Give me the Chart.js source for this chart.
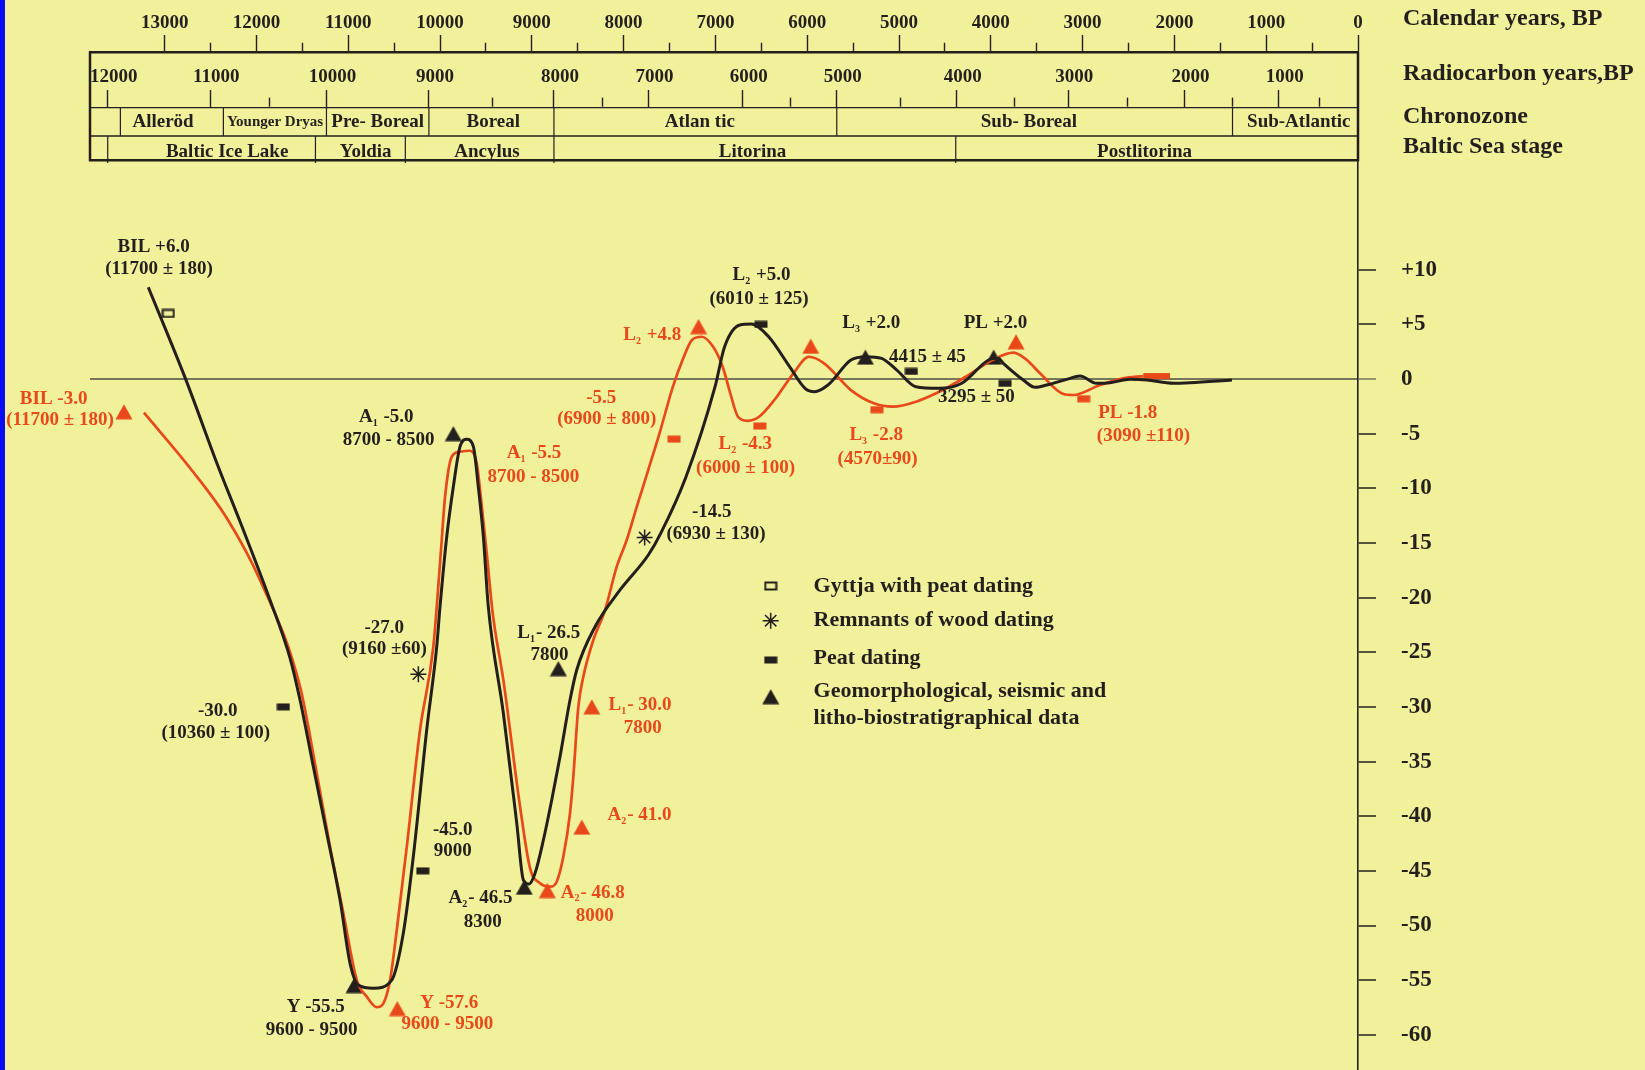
<!DOCTYPE html>
<html>
<head>
<meta charset="utf-8">
<script src="https://cdn.jsdelivr.net/npm/chart.js@4.4.1/dist/chart.umd.min.js"></script>
<style>
  html, body { margin: 0; padding: 0; background: #f2f19b; overflow: hidden; }
  canvas { display: block; }
</style>
</head>
<body>
<canvas id="curve" width="1645" height="1070" style="width:1645px;height:1070px"></canvas>
<script>
// ---- Sea-level curves: calendar age (years BP) and relative level (m) ----
const blackYears = [13178, 12770, 12419, 12168, 11852, 11634, 11525, 11380, 11234, 11089, 10980, 10890,
  10726, 10526, 10400, 10291, 10145, 10036, 10000, 9927, 9855, 9782, 9709, 9637, 9583, 9528, 9474,
  9310, 9164, 9092, 9030, 8965, 8874, 8783, 8693, 8584, 8511, 8311, 8039, 7731, 7596, 7320, 7004,
  6900, 6733, 6608, 6420, 6192, 6024, 5920, 5774, 5524, 5357, 5191, 5024, 4816, 4565, 4316, 4024,
  3919, 3864, 3646, 3518, 3391, 3173, 3028, 2846, 2701, 2484, 2302, 2012, 1830, 1373];
const blackLevels = [8.4, -0.03, -7.96, -13.27, -20.22, -25.53, -29.37, -35.47, -41.56, -47.67, -53.46, -55.44,
  -55.74, -54.99, -50.71, -43.7, -32.11, -24.49, -20.83, -14.43, -9.85, -6.19, -5.52, -6.19, -9.85, -14.43, -20.83,
  -30.58, -40.65, -45.84, -46.2, -45.22, -42.18, -38.52, -34.56, -29.37, -26.62, -22.66, -19.3, -16.1, -14.12, -8.94, -0.7,
  2.96, 4.94, 5.03, 3.87, 1.13, -0.85, -1.16, -0.55, 1.74, 2.04, 1.89, 0.82, -0.7, -0.85, -0.39, 1.74,
  1.89, 1.44, -0.09, -0.76, -0.55, -0.03, 0.27, -0.39, -0.34, -0.03, -0.09, -0.39, -0.34, -0.09];

const redYears = [13225, 12691, 12322, 11961, 11525, 11343, 11198, 11053, 10907, 10798, 10689, 10617,
  10544, 10471, 10362, 10218, 10073, 9992, 9945, 9872, 9782, 9673, 9600, 9556, 9491, 9426, 9310,
  9128, 9019, 8910, 8802, 8729, 8657, 8584, 8548, 8493, 8439, 8330, 8202, 8075, 7966, 7868, 7732,
  7609, 7463, 7358, 7255, 7150, 7025, 6921, 6838, 6754, 6650, 6525, 6358, 6150, 5982, 5816, 5524,
  5274, 5065, 4816, 4524, 4273, 3981, 3753, 3607, 3464, 3210, 3101, 2810, 2557, 2339];
const redLevels = [-3.08, -8.48, -12.74, -18.39, -28.15, -36.07, -42.79, -48.88, -54.99, -56.51, -57.48, -57.12,
  -54.99, -50.41, -42.79, -32.11, -24.49, -15.95, -10.77, -7.11, -6.65, -6.56, -7.71, -10.77, -15.95, -21.44, -27.54,
  -39.13, -44.77, -46.14, -46.45, -45.99, -43.71, -39.73, -36.39, -29.98, -27.24, -23.88, -21.13, -17.17, -14.73, -11.99, -8.33,
  -4.97, -0.7, 1.74, 3.57, 3.87, 2.96, 1.13, -1.31, -3.45, -3.82, -3.45, -1.92, 0.52, 2.04, 1.44, -1.01,
  -2.22, -2.53, -2.08, -1.01, 0.21, 1.74, 2.41, 1.74, 0.52, -1.37, -1.46, -0.55, 0.06, 0.27];
// thick closing stroke at the young end of the red curve
const redEndYears = [2339, 2048];
const redEndLevels = [0.27, 0.27];

// ---- Dated samples and indicators ----
const blackGeoYears = [10937, 9855, 9082, 8711, 5366, 3969];
const blackGeoLevels = [-55.5, -5.0, -46.5, -26.5, 2.0, 2.0];
const blackPeatYears = [11707, 10188, 6504, 4866, 3845];
const blackPeatLevels = [-30.0, -45.0, 5.0, 0.7, -0.4];
const blackWoodYears = [10236, 7771];
const blackWoodLevels = [-27.0, -14.5];
const blackGyttjaYears = [12960];
const blackGyttjaLevels = [6.0];

const redGeoYears = [13443, 10465, 8831, 8456, 8347, 7184, 5962, 3725];
const redGeoLevels = [-3.0, -57.6, -46.8, -41.0, -30.0, 4.8, 3.0, 3.4];
const redPeatYears = [7451, 6516, 5241, 2990];
const redPeatLevels = [-5.5, -4.3, -2.8, -1.8];

// ---- Axes ----
const calendarTicks = [13000, 12500, 12000, 11500, 11000, 10500, 10000, 9500, 9000, 8500, 8000, 7500, 7000,
  6500, 6000, 5500, 5000, 4500, 4000, 3500, 3000, 2500, 2000, 1500, 1000, 500, 0];
const radiocarbonAges = [12000, 11000, 10500, 10000, 9000, 8500, 8000, 7500, 7000, 6000, 5500, 5000,
  4500, 4000, 3500, 3000, 2500, 2000, 1500, 1000, 500];
const radiocarbonCalYears = [13620, 12502, 11859, 11237, 10121, 9426, 8759, 8230, 7729, 6703, 6184, 5678,
  4989, 4370, 3745, 3156, 2513, 1889, 1367, 863, 416];
const levelTicks = [10, 5, 0, -5, -10, -15, -20, -25, -30, -35, -40, -45, -50, -55, -60];

// ---- Chronozones and Baltic Sea stages (calendar years BP) ----
const chronozoneBounds = [13482, 12360, 11237, 10121, 8759, 5678, 1367];
const chronozoneNames = ['Alleröd', 'Younger Dryas', 'Pre- Boreal', 'Boreal', 'Atlan tic', 'Sub- Boreal', 'Sub-Atlantic'];
const chronozoneLabelYears = [13017, 11797, 10679, 9420, 7170, 3585, 645];
const stageBounds = [13620, 11357, 10378, 8759, 4382];
const stageNames = ['Baltic Ice Lake', 'Yoldia', 'Ancylus', 'Litorina', 'Postlitorina'];
const stageLabelYears = [12319, 10810, 9489, 6595, 2325];

const X_MAX = 13813, Y_MIN = -63.22, Y_MAX = 20.04;

const FONT = "'Liberation Serif', 'Times New Roman', serif";
const INK = '#231f1c';
const RED = '#e9481a';
const ZERO = '#76765c';
const BG = '#f2f19b';

const pts = (xs, ys) => xs.map((x, i) => ({ x, y: ys[i] }));

function sprite(w, h, paint) {
  const c = document.createElement('canvas');
  c.width = w; c.height = h;
  paint(c.getContext('2d'));
  return c;
}
const triangle = col => sprite(18, 16, g => {
  g.fillStyle = col; g.beginPath();
  g.moveTo(9, 0.5); g.lineTo(17.5, 15.5); g.lineTo(0.5, 15.5); g.closePath(); g.fill();
});
const peat = col => sprite(14, 8, g => { g.fillStyle = col; g.fillRect(0.5, 0.5, 13, 7); });
const triBlack = triangle(INK), triRed = triangle(RED);
const peatBlack = peat(INK), peatRed = peat(RED);
const gyttja = sprite(14, 10, g => { g.strokeStyle = INK; g.lineWidth = 2; g.strokeRect(1.5, 1.5, 11, 7); });

// Annotation texts (centre in px); "_n" marks a subscript digit
const notes = [
  ['BIL +6.0', 153.6, 246.7, INK], ['(11700 ± 180)', 159, 269.3, INK],
  ['-30.0', 217.7, 710.7, INK], ['(10360 ± 100)', 215.7, 732.7, INK],
  ['-27.0', 384.3, 628.3, INK], ['(9160 ±60)', 384.3, 649, INK],
  ['-45.0', 452.7, 830, INK], ['9000', 452.7, 850.7, INK],
  ['Y -55.5', 315.7, 1007.3, INK], ['9600 - 9500', 311.7, 1030, INK],
  ['A_1 -5.0', 385.7, 417.3, INK], ['8700 - 8500', 388.6, 440, INK],
  ['A_2- 46.5', 480, 898.3, INK], ['8300', 482.7, 921.7, INK],
  ['L_1- 26.5', 548.3, 633.5, INK], ['7800', 549.5, 655.5, INK],
  ['-14.5', 711.8, 511.7, INK], ['(6930 ± 130)', 716, 534, INK],
  ['L_2 +5.0', 761, 275, INK], ['(6010 ± 125)', 759, 299.3, INK],
  ['L_3 +2.0', 870.8, 323.3, INK], ['4415 ± 45', 927.4, 356.7, INK],
  ['PL +2.0', 995.5, 323.3, INK], ['3295 ± 50', 976.4, 397.3, INK],
  ['BIL -3.0', 53.6, 399, RED], ['(11700 ± 180)', 60, 420, RED],
  ['Y -57.6', 449.3, 1002.7, RED], ['9600 - 9500', 447.3, 1024.3, RED],
  ['A_1 -5.5', 533.5, 453.3, RED], ['8700 - 8500', 533.4, 476.7, RED],
  ['L_1- 30.0', 639.5, 705, RED], ['7800', 642.7, 728.3, RED],
  ['A_2- 41.0', 639, 815, RED],
  ['A_2- 46.8', 592.3, 892.7, RED], ['8000', 594.8, 915.8, RED],
  ['-5.5', 601.3, 398.3, RED], ['(6900 ± 800)', 606.7, 419.3, RED],
  ['L_2 +4.8', 651.8, 335, RED],
  ['L_2 -4.3', 744.8, 444, RED], ['(6000 ± 100)', 745.6, 468.3, RED],
  ['L_3 -2.8', 875.7, 435, RED], ['(4570±90)', 877.6, 459.3, RED],
  ['PL -1.8', 1127.7, 413.3, RED], ['(3090 ±110)', 1143.5, 436.4, RED]
];

const sideTitles = [
  ['Calendar years, BP', 18.3], ['Radiocarbon years,BP', 74],
  ['Chronozone', 116.7], ['Baltic Sea stage', 146.7]
];

const legendItems = [
  ['gyttja', 'Gyttja with peat dating', 586],
  ['wood', 'Remnants of wood dating', 620.7],
  ['peat', 'Peat dating', 658.3],
  ['geo', 'Geomorphological, seismic and', 691],
  [null, 'litho-biostratigraphical data', 718.5]
];

function richText(g, text, cx, cy, size, color) {
  const segs = text.split(/(_\d)/).filter(s => s.length);
  const big = `bold ${size}px ${FONT}`, small = `bold ${Math.round(size * 0.5)}px ${FONT}`;
  let w = 0;
  segs.forEach(s => { const sub = s[0] === '_'; g.font = sub ? small : big; w += g.measureText(sub ? s.slice(1) : s).width; });
  let x = cx - w / 2;
  g.fillStyle = color; g.textAlign = 'left'; g.textBaseline = 'middle';
  segs.forEach(s => {
    const sub = s[0] === '_'; const t = sub ? s.slice(1) : s;
    g.font = sub ? small : big;
    g.fillText(t, x, cy + (sub ? size * 0.32 : 0));
    x += g.measureText(t).width + (sub ? 1 : 0);
  });
}

function drawStar(g, x, y, r) {
  g.save(); g.strokeStyle = INK; g.lineWidth = 1.5; g.beginPath();
  for (let k = 0; k < 4; k++) {
    const a = k * Math.PI / 4;
    g.moveTo(x - r * Math.cos(a), y - r * Math.sin(a));
    g.lineTo(x + r * Math.cos(a), y + r * Math.sin(a));
  }
  g.stroke(); g.restore();
}

const decor = {
  id: 'decor',
  beforeDraw(chart) {
    const g = chart.ctx;
    g.save();
    g.fillStyle = BG; g.fillRect(0, 0, chart.width, chart.height);
    g.fillStyle = '#0c0cf2'; g.fillRect(0, 0, 5, chart.height);
    g.restore();
  },
  afterDraw(chart) {
    const g = chart.ctx;
    const xs = chart.scales.x, zone = chart.scales.xZone;
    const L = chart.chartArea.left, R = chart.chartArea.right;
    const rowTop = zone.top, rowMid = zone.top + 28.7, rowBot = zone.bottom;
    g.save();
    // frame sides of the stratigraphy box
    g.strokeStyle = INK; g.lineWidth = 2.5;
    g.beginPath();
    g.moveTo(L, chart.scales.x.bottom - 1); g.lineTo(L, rowBot + 1);
    g.moveTo(R, chart.scales.x.bottom - 1); g.lineTo(R, rowBot + 1);
    g.stroke();
    g.lineWidth = 1.3;
    g.beginPath(); g.moveTo(L, rowMid); g.lineTo(R, rowMid); g.stroke();
    // chronozone and stage dividers
    g.lineWidth = 1.2; g.beginPath();
    chronozoneBounds.forEach(v => { const p = xs.getPixelForValue(v); g.moveTo(p, rowTop); g.lineTo(p, rowMid); });
    stageBounds.forEach(v => { const p = xs.getPixelForValue(v); g.moveTo(p, rowMid); g.lineTo(p, rowBot + 3); });
    g.stroke();
    // row labels, shrunk to fit narrow zones
    g.fillStyle = INK; g.textAlign = 'center'; g.textBaseline = 'middle';
    const edges = chronozoneBounds.concat([0]);
    chronozoneNames.forEach((n, i) => {
      const room = Math.abs(xs.getPixelForValue(edges[i + 1]) - xs.getPixelForValue(edges[i])) - 4;
      let size = 19;
      g.font = `bold ${size}px ${FONT}`;
      while (g.measureText(n).width > room && size > 9) { size -= 0.5; g.font = `bold ${size}px ${FONT}`; }
      g.fillText(n, xs.getPixelForValue(chronozoneLabelYears[i]), rowTop + 15);
    });
    g.font = `bold 19px ${FONT}`;
    stageNames.forEach((n, i) => g.fillText(n, xs.getPixelForValue(stageLabelYears[i]), rowMid + 16));
    // titles on the right
    g.textAlign = 'left'; g.font = `bold 24px ${FONT}`;
    sideTitles.forEach(([t, y]) => g.fillText(t, 1403, y));
    // annotations
    notes.forEach(([t, x, y, c]) => richText(g, t, x, y, 19, c));
    // legend
    const ix = 770.7, tx = 813.6;
    legendItems.forEach(([kind, text, y]) => {
      if (kind === 'gyttja') g.drawImage(gyttja, ix - 7, y - 5);
      if (kind === 'peat') g.drawImage(peatBlack, ix - 7, y + 1.7 - 4);
      if (kind === 'geo') g.drawImage(triBlack, ix - 9, y + 5.7 - 8);
      if (kind === 'wood') drawStar(g, ix, y, 8);
      g.fillStyle = INK; g.textAlign = 'left'; g.textBaseline = 'middle';
      g.font = `bold 22px ${FONT}`;
      g.fillText(text, tx, y);
    });
    g.restore();
  }
};

// minor ticks: draw only the lower part of the tick line
const minorDash = (len, minorLen, border) => ({
  tickBorderDash: c => (c.tick && c.tick.major) ? [] : [minorLen, 400],
  tickBorderDashOffset: c => (c.tick && c.tick.major) ? 0 : (minorLen + 400) - (len - border / 2 - minorLen)
});

const tickFont = { family: FONT, size: 19, weight: 'bold' };
const lineSet = (data, color, width) => ({
  data, borderColor: color, borderWidth: width, pointRadius: 0, fill: false,
  cubicInterpolationMode: 'monotone', xAxisID: 'x', yAxisID: 'y'
});
const markSet = (data, style, extra) => Object.assign({
  data, showLine: false, pointStyle: style, pointRadius: 7, xAxisID: 'x', yAxisID: 'y'
}, extra || {});

new Chart(document.getElementById('curve'), {
  type: 'line',
  data: {
    datasets: [
      Object.assign(lineSet(pts(blackYears, blackLevels), INK, 3), { label: 'Relative sea level, curve 1' }),
      Object.assign(lineSet(pts(redYears, redLevels), RED, 2.7), { label: 'Relative sea level, curve 2' }),
      Object.assign(lineSet(pts(redEndYears, redEndLevels), RED, 6), { cubicInterpolationMode: 'default', label: 'curve 2 end' }),
      markSet(pts(blackGeoYears, blackGeoLevels), triBlack, { label: 'Geomorphological, seismic and litho-biostratigraphical data' }),
      markSet(pts(blackPeatYears, blackPeatLevels), peatBlack, { label: 'Peat dating' }),
      markSet(pts(blackWoodYears, blackWoodLevels), 'star', { label: 'Remnants of wood dating', pointRadius: 8, pointBorderColor: INK, pointBorderWidth: 1.5, pointBackgroundColor: INK }),
      markSet(pts(blackGyttjaYears, blackGyttjaLevels), gyttja, { label: 'Gyttja with peat dating' }),
      markSet(pts(redGeoYears, redGeoLevels), triRed, { label: 'Geomorphological data, curve 2' }),
      markSet(pts(redPeatYears, redPeatLevels), peatRed, { label: 'Peat dating, curve 2' })
    ]
  },
  options: {
    responsive: false, animation: false, events: [], devicePixelRatio: 1,
    layout: { padding: { left: 90, right: 0, top: 0, bottom: 0 }, autoPadding: false },
    plugins: { legend: { display: false }, tooltip: { enabled: false } },
    scales: {
      x: {
        type: 'linear', position: 'top', reverse: true, min: 0, max: X_MAX, weight: 3,
        afterBuildTicks: s => { s.ticks = calendarTicks.map(v => ({ value: v, major: v % 1000 === 0 })); },
        afterFit: s => { s.height = 52.7; s.paddingLeft = 0; s.paddingRight = 0; },
        grid: Object.assign({ display: true, drawOnChartArea: false, drawTicks: true, tickLength: 17.7, tickWidth: 1.4, tickColor: INK }, minorDash(17.7, 8.7, 2.5)),
        border: { display: true, color: INK, width: 2.5 },
        ticks: { autoSkip: false, maxRotation: 0, padding: 1, color: INK, font: tickFont,
          callback: (v, i, t) => t[i].major ? String(v) : '' }
      },
      xRc: {
        type: 'linear', position: 'top', reverse: true, min: 0, max: X_MAX, weight: 2,
        afterBuildTicks: s => { s.ticks = radiocarbonCalYears.map((v, i) => ({ value: v, major: radiocarbonAges[i] % 1000 === 0 })); },
        afterFit: s => { s.height = 54.6; s.paddingLeft = 0; s.paddingRight = 0; },
        grid: Object.assign({ display: true, drawOnChartArea: false, drawTicks: true, tickLength: 17.3, tickWidth: 1.4, tickColor: INK }, minorDash(17.3, 9, 1.3)),
        border: { display: true, color: INK, width: 1.3 },
        ticks: { autoSkip: false, maxRotation: 0, padding: 1.3, labelOffset: 6, color: INK, font: tickFont,
          callback: (v, i) => radiocarbonAges[i] % 1000 === 0 ? String(radiocarbonAges[i]) : '' }
      },
      xZone: {
        type: 'linear', position: 'top', reverse: true, min: 0, max: X_MAX, weight: 1,
        afterFit: s => { s.height = 52.7; s.paddingLeft = 0; s.paddingRight = 0; },
        grid: { display: false },
        border: { display: true, color: INK, width: 2.5 },
        ticks: { display: false }
      },
      y: {
        type: 'linear', position: 'right', min: Y_MIN, max: Y_MAX,
        afterBuildTicks: s => { s.ticks = levelTicks.map(v => ({ value: v })); },
        afterFit: s => { s.width = 287; s.paddingTop = 0; s.paddingBottom = 0; },
        grid: {
          drawOnChartArea: true, tickLength: 18, tickWidth: 1.5, lineWidth: 2,
          color: c => (c.tick && c.tick.value === 0) ? ZERO : 'rgba(0,0,0,0)',
          tickColor: c => (c.tick && c.tick.value === 0) ? ZERO : INK
        },
        border: { display: true, color: INK, width: 1.6 },
        ticks: { autoSkip: false, padding: 25, color: INK, font: { family: FONT, size: 23, weight: 'bold' },
          callback: v => v > 0 ? '+' + v : String(v) }
      }
    }
  },
  plugins: [decor]
});
</script>
</body>
</html>
